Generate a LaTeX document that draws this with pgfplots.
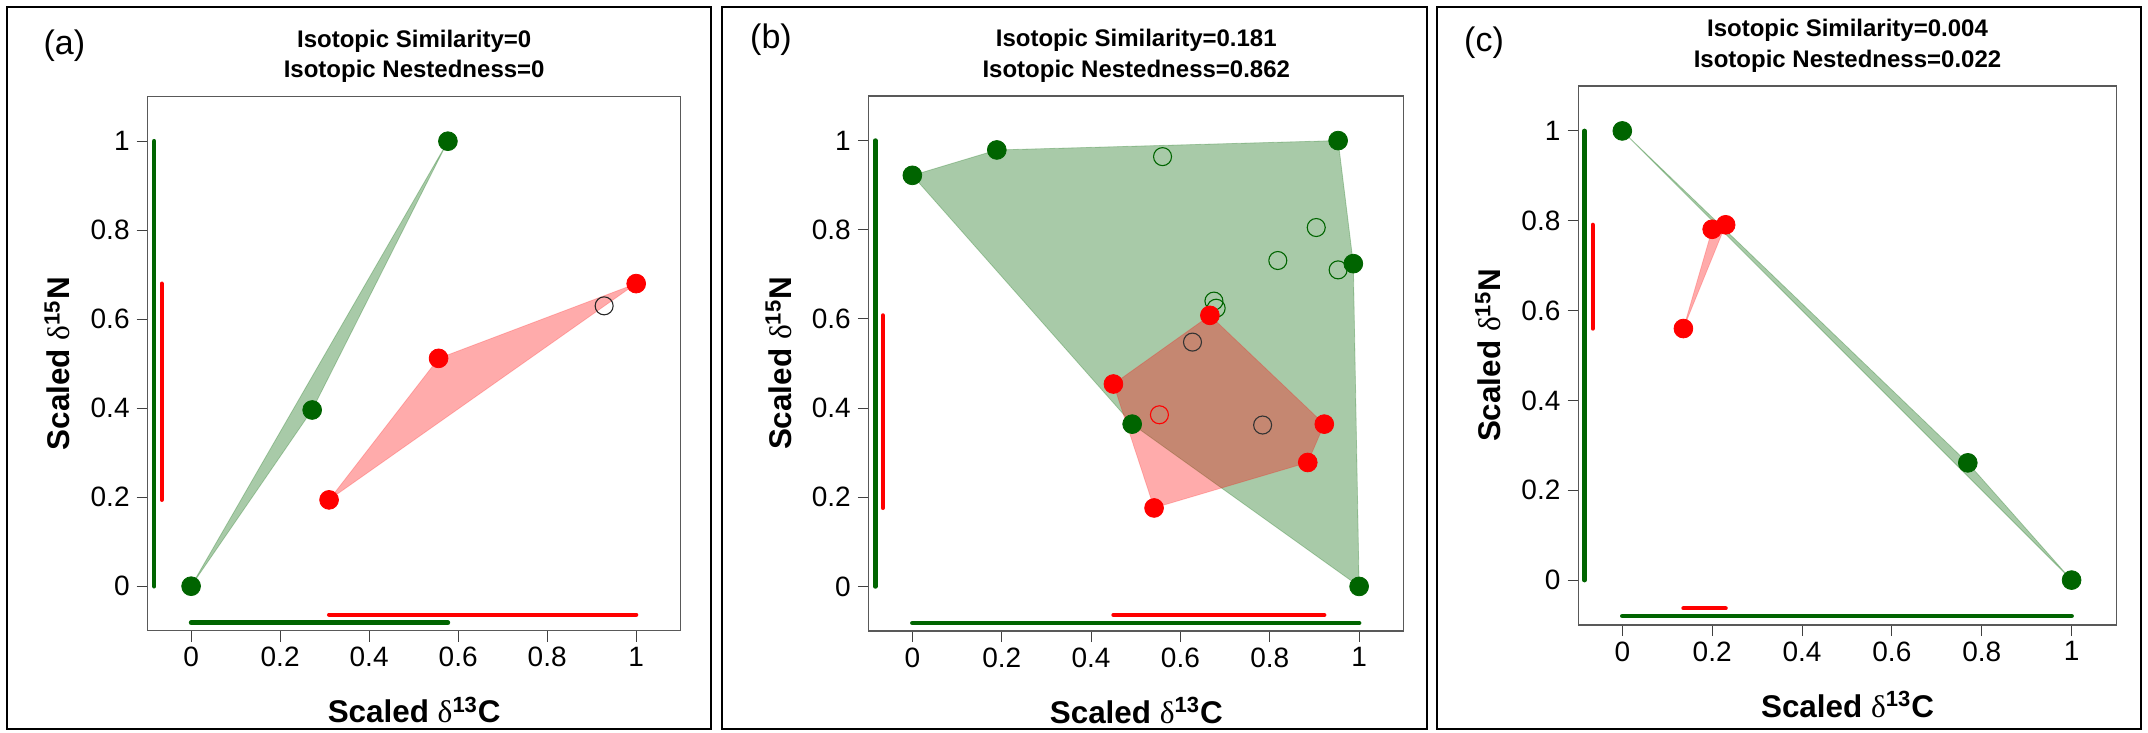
\documentclass[border=0pt]{standalone}
\usepackage{fontspec}
\setmainfont{Liberation Sans}
\newfontfamily\serifdelta{Liberation Serif}
\usepackage{pgfplots}
\pgfplotsset{compat=1.18}
\definecolor{dgreen}{RGB}{0,100,0}
\definecolor{rred}{RGB}{255,0,0}
\newcommand{\dN}{\bfseries Scaled {\mdseries\serifdelta δ}\textsuperscript{15}N}
\newcommand{\dC}{Scaled {\mdseries\serifdelta δ}\textsuperscript{13}C}
\pgfplotsset{
  panel/.style={
    scale only axis, anchor=south west,
    xmin=-0.0975, xmax=1.1, ymin=-0.1, ymax=1.1,
    xtick={0,0.2,0.4,0.6,0.8,1}, ytick={0,0.2,0.4,0.6,0.8,1},
    /pgf/number format/assume math mode=true,
    /pgf/number format/fixed,
    tick align=outside, major tick length=5.5pt,
    xtick pos=lower, ytick pos=left,
    axis line style={black!65, line width=0.6pt},
    tick style={black!75, line width=0.5pt},
    ticklabel style={font=\fontsize{14}{16}\selectfont, inner sep=0pt},
    xticklabel shift=2.65pt, yticklabel shift=3.35pt,
    clip=false,
    title style={at={(axis description cs:0.5,1)}, anchor=south, yshift=0.75pt, inner sep=0pt, align=center, font=\bfseries\fontsize{12}{15.25}\selectfont},
    xlabel style={at={(axis description cs:0.5,0)}, anchor=base, yshift=-46pt, inner sep=0pt, font=\bfseries\fontsize{15.7}{18}\selectfont},
    xlabel={\dC},
  },
  hullg/.style={fill=dgreen, fill opacity=0.34, draw=dgreen, draw opacity=0.25, line width=0.4pt, mark=none},
  hullr/.style={fill=rred, fill opacity=0.33, draw=rred, draw opacity=0.2, line width=0.4pt, mark=none},
  barg/.style={dgreen, line width=2.3pt, line cap=round, mark=none},
  barr/.style={rred, line width=2.1pt, line cap=round, mark=none},
  ptg/.style={only marks, mark=*, mark size=4.7pt, mark options={fill=dgreen, draw=dgreen, line width=0.4pt}},
  ptr/.style={only marks, mark=*, mark size=4.7pt, mark options={fill=rred, draw=rred, line width=0.4pt}},
  opn/.style={only marks, mark=o, mark size=4.5pt, mark options={draw=#1, line width=0.55pt}},
}
\begin{document}
\begin{tikzpicture}
\useasboundingbox (0,0) rectangle (1074pt,-366.5pt);
\draw[line width=1pt] (3.5pt,-3.5pt) rectangle (355.5pt,-364.5pt);
\draw[line width=1pt] (361pt,-3.5pt) rectangle (713.5pt,-364.5pt);
\draw[line width=1pt] (718.5pt,-3.5pt) rectangle (1070.5pt,-364.5pt);

% ---------------- (a)
\begin{axis}[panel, at={(73.85pt,-315.35pt)}, width=266.5pt, height=267pt,
  title={Isotopic Similarity=0\\Isotopic Nestedness=0}]
\addplot[hullg] coordinates {(0,0) (0.272,0.396) (0.577,1.0) (0,0)};
\addplot[barg] coordinates {(-0.083,0) (-0.083,1)};
\addplot[barr] coordinates {(-0.066,0.194) (-0.066,0.680)};
\addplot[barg] coordinates {(0,-0.082) (0.577,-0.082)};
\addplot[barr] coordinates {(0.310,-0.064) (1.0,-0.064)};
\addplot[ptg] coordinates {(0,0) (0.272,0.396) (0.577,1.0)};
\addplot[hullr] coordinates {(0.310,0.194) (0.556,0.512) (1.0,0.680) (0.310,0.194)};
\addplot[opn=black!85] coordinates {(0.928,0.630)};
\addplot[ptr] coordinates {(0.310,0.194) (0.556,0.512) (1.0,0.680)};
\node[xshift=-38.85pt, rotate=90, anchor=base, inner sep=0pt, font=\fontsize{15.7}{18}\selectfont] at (axis description cs:0,0.5) {\dN};
\end{axis}
\node[font=\fontsize{17}{19}\selectfont] at (32.15pt,-22.75pt) {(a)};

% ---------------- (b)
\begin{axis}[panel, at={(434.4pt,-315.5pt)}, width=267.5pt, height=267.5pt,
  title={Isotopic Similarity=0.181\\Isotopic Nestedness=0.862}]
\addplot[hullg] coordinates {(0,0.922) (0.189,0.979) (0.953,1.0) (0.987,0.724) (1.0,0.0) (0.492,0.364) (0,0.922)};
\addplot[barg] coordinates {(-0.083,0) (-0.083,1)};
\addplot[barr] coordinates {(-0.066,0.176) (-0.066,0.608)};
\addplot[barg] coordinates {(0,-0.082) (1,-0.082)};
\addplot[barr] coordinates {(0.450,-0.064) (0.922,-0.064)};
\addplot[ptg] coordinates {(0,0.922) (0.189,0.979) (0.953,1.0) (0.987,0.724) (1.0,0.0) (0.492,0.364)};
\addplot[opn=dgreen] coordinates {(0.560,0.964) (0.904,0.805) (0.818,0.731) (0.953,0.710) (0.675,0.640) (0.680,0.624)};
\addplot[opn=black!80] coordinates {(0.627,0.548) (0.784,0.362)};
\addplot[hullr] coordinates {(0.450,0.454) (0.666,0.608) (0.922,0.364) (0.885,0.278) (0.541,0.176) (0.450,0.454)};
\addplot[opn=rred] coordinates {(0.553,0.385)};
\addplot[ptr] coordinates {(0.666,0.608) (0.450,0.454) (0.922,0.364) (0.885,0.278) (0.541,0.176)};
\node[xshift=-38.85pt, rotate=90, anchor=base, inner sep=0pt, font=\fontsize{15.7}{18}\selectfont] at (axis description cs:0,0.5) {\dN};
\end{axis}
\node[font=\fontsize{17}{19}\selectfont] at (385.5pt,-20pt) {(b)};

% ---------------- (c)
\begin{axis}[panel, at={(789.25pt,-312.5pt)}, width=269pt, height=269.5pt,
  title={Isotopic Similarity=0.004\\Isotopic Nestedness=0.022}]
\addplot[hullg] coordinates {(0,1) (0.769,0.261) (1,0) (0,1)};
\addplot[barg] coordinates {(-0.084,0) (-0.084,1)};
\addplot[barr] coordinates {(-0.066,0.560) (-0.066,0.791)};
\addplot[barg] coordinates {(0,-0.080) (1,-0.080)};
\addplot[barr] coordinates {(0.136,-0.063) (0.230,-0.063)};
\addplot[ptg] coordinates {(0,1) (0.769,0.261) (1,0)};
\addplot[hullr] coordinates {(0.136,0.560) (0.200,0.781) (0.230,0.791) (0.136,0.560)};
\addplot[ptr] coordinates {(0.136,0.560) (0.200,0.781) (0.230,0.791)};
\node[xshift=-38.85pt, rotate=90, anchor=base, inner sep=0pt, font=\fontsize{15.7}{18}\selectfont] at (axis description cs:0,0.5) {\dN};
\end{axis}
\node[font=\fontsize{17}{19}\selectfont] at (742pt,-21.5pt) {(c)};
\end{tikzpicture}
\end{document}
